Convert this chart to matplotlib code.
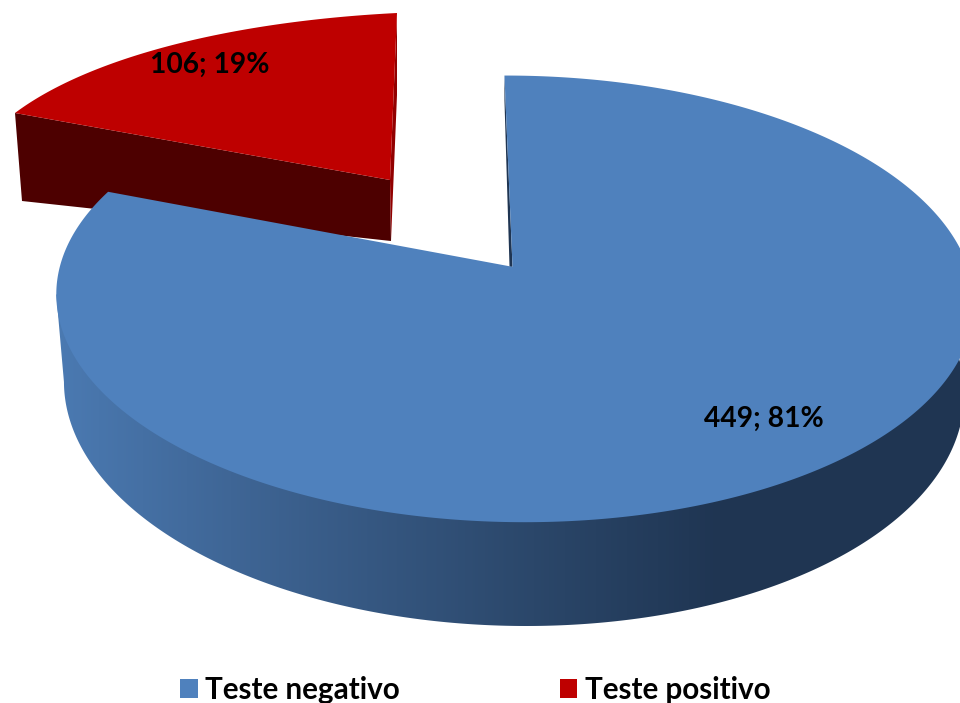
import numpy as np
import matplotlib
matplotlib.use('Agg')
import matplotlib.pyplot as plt
from matplotlib.patches import Patch, Polygon

# chart data
categories = ['Teste negativo', 'Teste positivo']
values = [449, 106]
percents = [81, 19]
top_colors = ['#4F81BD', '#BE0000']

plt.rcParams['font.family'] = ['Lato', 'DejaVu Sans']

fracs = np.array(values) / sum(values)
split = fracs[0] * 2 * np.pi       # clockwise from 12 o'clock
mid = (split + 2 * np.pi) / 2


def unit(a):
    return np.array([np.sin(a), np.cos(a)])


# perspective of the disc: least squares homography from disc coords to pixels
def fit(pairs):
    A, b = [], []
    for (u, v), (x, y) in pairs:
        A.append([u, v, 1, 0, 0, 0, -u * x, -v * x])
        A.append([0, 0, 0, u, v, 1, -u * y, -v * y])
        b += [x, y]
    h = np.linalg.lstsq(np.array(A, float), np.array(b, float), rcond=None)[0]
    return np.append(h, 1).reshape(3, 3)


def proj(H, pts):
    pts = np.atleast_2d(pts)
    q = np.c_[pts, np.ones(len(pts))] @ H.T
    return q[:, :2] / q[:, 2:]


top = fit([((0, 0), (511, 264)), ((0, 1), (505, 76)), ((0, -1), (524, 522)),
           ((-1, 0), (60, 270)), ((1, 0), (968, 268)), (unit(split), (108, 190))])
bot = fit([((0, -1), (528, 626)), ((-1, 0), (67, 354)), ((1, 0), (958, 355)), ((0, 1), (505, 150))])
red = fit([((0, 0), (390, 180)), (unit(split), (15, 113)), ((0, 1), (397, 13)), (unit(mid), (165, 47))])

fig = plt.figure(figsize=(9.6, 7.03), dpi=100)
ax = fig.add_axes([0, 0, 1, 1])
ax.set_xlim(0, 960)
ax.set_ylim(703, 0)
ax.axis('off')

# exploded slice: cut wall, thin wall, top
r0 = proj(red, (0, 0))[0]
r1 = proj(red, unit(split))[0]
r2 = proj(red, (0, 1))[0]
ax.add_patch(Polygon([r0, r1, r1 + [7, 88], r0 + [1, 61]], fc='#4D0000', ec='none', zorder=1))
ax.add_patch(Polygon([r2, r0, r0 + [1, 61], r2 + [0, 82]], fc='#920000', ec='none', zorder=1))
arc = np.linspace(split, 2 * np.pi, 80)
rim = np.c_[np.sin(arc), np.cos(arc)]
ax.add_patch(Polygon(np.vstack([proj(red, (0, 0)), proj(red, rim)]), fc=top_colors[1], ec='none', zorder=2))

# side of the big slice, shaded from left to right
arc = np.linspace(np.radians(60), np.radians(288), 600)
rim = np.c_[np.sin(arc), np.cos(arc)]
t_rim = proj(top, rim)
b_rim = proj(bot, rim)
i = np.argmin(t_rim[:, 0])      # leftmost points, joined by the tangent edge
j = np.argmin(b_rim[:, 0])
inner = proj(top, rim[:i + 1] * 0.97)   # tucked under the top face
side = Polygon(np.vstack([inner, t_rim[i], b_rim[j::-1]]), fc='none', ec='none', transform=ax.transData)
ax.add_patch(side)
shade_x = [55, 230, 533, 720, 960]
cols = np.array([[0x4B, 0x7A, 0xB2], [0x3F, 0x66, 0x96], [0x2B, 0x47, 0x6A], [0x1F, 0x35, 0x52], [0x1F, 0x35, 0x52]]) / 255
px = np.arange(960)
grad = np.stack([np.interp(px, shade_x, cols[:, c]) for c in range(3)], axis=-1)[None, :, :]
im = ax.imshow(grad, extent=(0, 960, 703, 0), aspect='auto', zorder=3)
im.set_clip_path(side)

# thin inner wall next to 12 o'clock
a0 = proj(top, (0, 0))[0]
a1 = proj(top, (0, 1))[0]
ax.add_patch(Polygon([a1, a0, a0 + [-3, 0], a1 + [0, 25]], fc='#1F3552', ec='none', zorder=3))

# top face
arc = np.linspace(0, split, 500)
rim = np.c_[np.sin(arc), np.cos(arc)]
ax.add_patch(Polygon(np.vstack([proj(top, (0, 0)), proj(top, rim)]), fc=top_colors[0], ec='none', zorder=4))

# value labels
label_pos = [(764, 419), (210, 65)]
for v, pc, pos in zip(values, percents, label_pos):
    ax.text(pos[0], pos[1], '%d; %d%%' % (v, pc), ha='center', va='center',
            fontsize=20.3, fontweight='bold', color='black', zorder=5)

handles = [Patch(fc=c, ec='none') for c in top_colors]
ax.legend(handles, categories, loc='center left', bbox_to_anchor=(180 / 960, 1 - 690 / 703), ncols=2, frameon=False,
          prop={'size': 21.3, 'weight': 'bold'}, handlelength=0.6, handleheight=0.6,
          handletextpad=0.25, columnspacing=5.4, borderpad=0, borderaxespad=0)

plt.savefig('out.png', dpi=100)
